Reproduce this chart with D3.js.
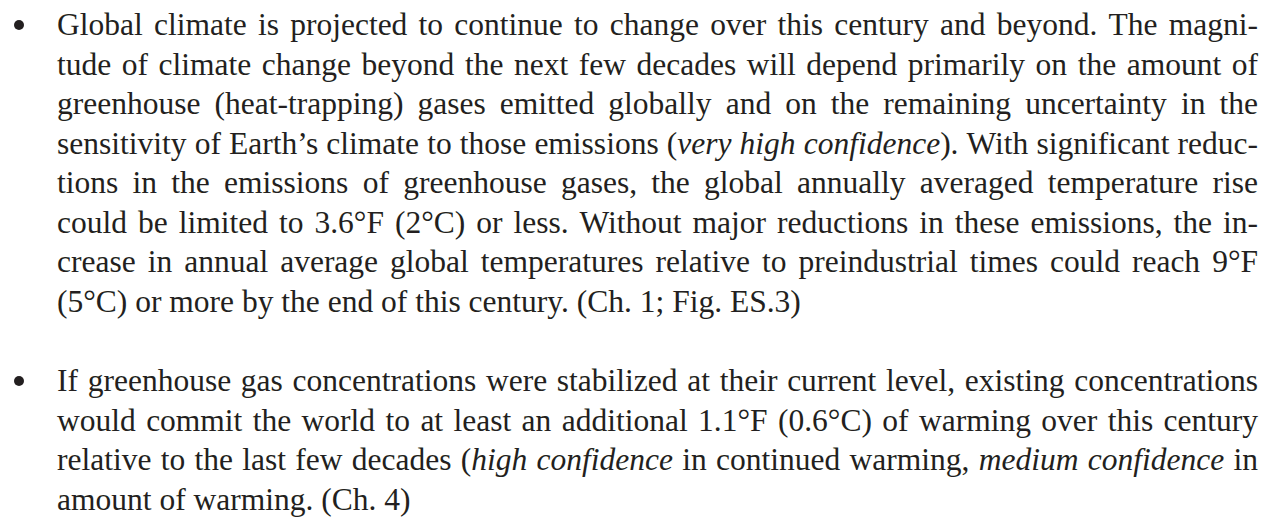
<!DOCTYPE html>
<html>
<head>
<meta charset="utf-8">
<script src="https://cdn.jsdelivr.net/npm/d3@7"></script>
<style>
  html, body { margin: 0; padding: 0; background: #fff; }
  svg { display: block; }
</style>
</head>
<body>
<script>
// Lines as they are broken in the printed page; _underscores_ mark italic text
var para1Lines = [
  "Global climate is projected to continue to change over this century and beyond. The magni-",
  "tude of climate change beyond the next few decades will depend primarily on the amount of",
  "greenhouse (heat-trapping) gases emitted globally and on the remaining uncertainty in the",
  "sensitivity of Earth\u2019s climate to those emissions (_very high confidence_). With significant reduc-",
  "tions in the emissions of greenhouse gases, the global annually averaged temperature rise",
  "could be limited to 3.6\u00b0F (2\u00b0C) or less. Without major reductions in these emissions, the in-",
  "crease in annual average global temperatures relative to preindustrial times could reach 9\u00b0F",
  "(5\u00b0C) or more by the end of this century. (Ch. 1; Fig. ES.3)"
];
var para2Lines = [
  "If greenhouse gas concentrations were stabilized at their current level, existing concentrations",
  "would commit the world to at least an additional 1.1\u00b0F (0.6\u00b0C) of warming over this century",
  "relative to the last few decades (_high confidence_ in continued warming, _medium confidence_ in",
  "amount of warming. (Ch. 4)"
];
var paragraphs = [para1Lines, para2Lines];

var width = 1263, height = 521;
var margin = { top: 35, left: 57, right: 5 };
var fontSize = 31.5, lineStep = 39.5, paraGap = 40;
var ink = "#231f20";

var svg = d3.select("body").append("svg")
  .attr("width", width)
  .attr("height", height);

// horizontal position inside the text column (0 = left edge, 1 = right edge)
var x = d3.scaleLinear().domain([0, 1]).range([margin.left, width - margin.right]);

// split a line into words, each word a list of pieces {t, i}
function parseLine(str) {
  var pieces = [], italic = false;
  str.split("_").forEach(function (part, n) {
    if (n > 0) italic = !italic;
    if (part) pieces.push({ t: part, i: italic });
  });
  var words = [[]];
  pieces.forEach(function (p) {
    p.t.split(" ").forEach(function (w, j) {
      if (j > 0) words.push([]);
      if (w) words[words.length - 1].push({ t: w, i: p.i });
    });
  });
  return words.filter(function (w) { return w.length; });
}

var rows = [], r = 0;
paragraphs.forEach(function (lines, p) {
  lines.forEach(function (line, k) {
    rows.push({
      para: p, first: k === 0, last: k === lines.length - 1,
      words: parseLine(line),
      baseline: margin.top + r * lineStep + p * paraGap
    });
    r++;
  });
});

var row = svg.selectAll("g.row")
  .data(rows)
  .enter()
  .append("g")
  .attr("class", "row")
  .attr("transform", function (d) { return "translate(0," + d.baseline + ")"; });

var word = row.selectAll("text")
  .data(function (d) { return d.words; })
  .enter()
  .append("text")
  .style("font-family", "'Liberation Serif', serif")
  .style("font-size", fontSize + "px")
  .style("fill", ink);

word.selectAll("tspan")
  .data(function (d) { return d; })
  .enter()
  .append("tspan")
  .style("font-style", function (d) { return d.i ? "italic" : "normal"; })
  .text(function (d) { return d.t; });

// justify: spread words so every line but the last fills the column
row.each(function (d) {
  var texts = d3.select(this).selectAll("text");
  var widths = texts.nodes().map(function (n) { return n.getComputedTextLength(); });
  var total = d3.sum(widths);
  var gap = d.last ? fontSize * 0.25 : (x(1) - x(0) - total) / (widths.length - 1);
  var pos = x(0);
  texts.attr("x", function (w, n) {
    var at = pos;
    pos += widths[n] + gap;
    return at;
  });
});

// bullets
svg.selectAll("circle.bullet")
  .data(rows.filter(function (d) { return d.first; }))
  .enter()
  .append("circle")
  .attr("class", "bullet")
  .attr("cx", 19)
  .attr("cy", function (d) { return d.baseline - 10; })
  .attr("r", 5)
  .style("fill", ink);
</script>
</body>
</html>
